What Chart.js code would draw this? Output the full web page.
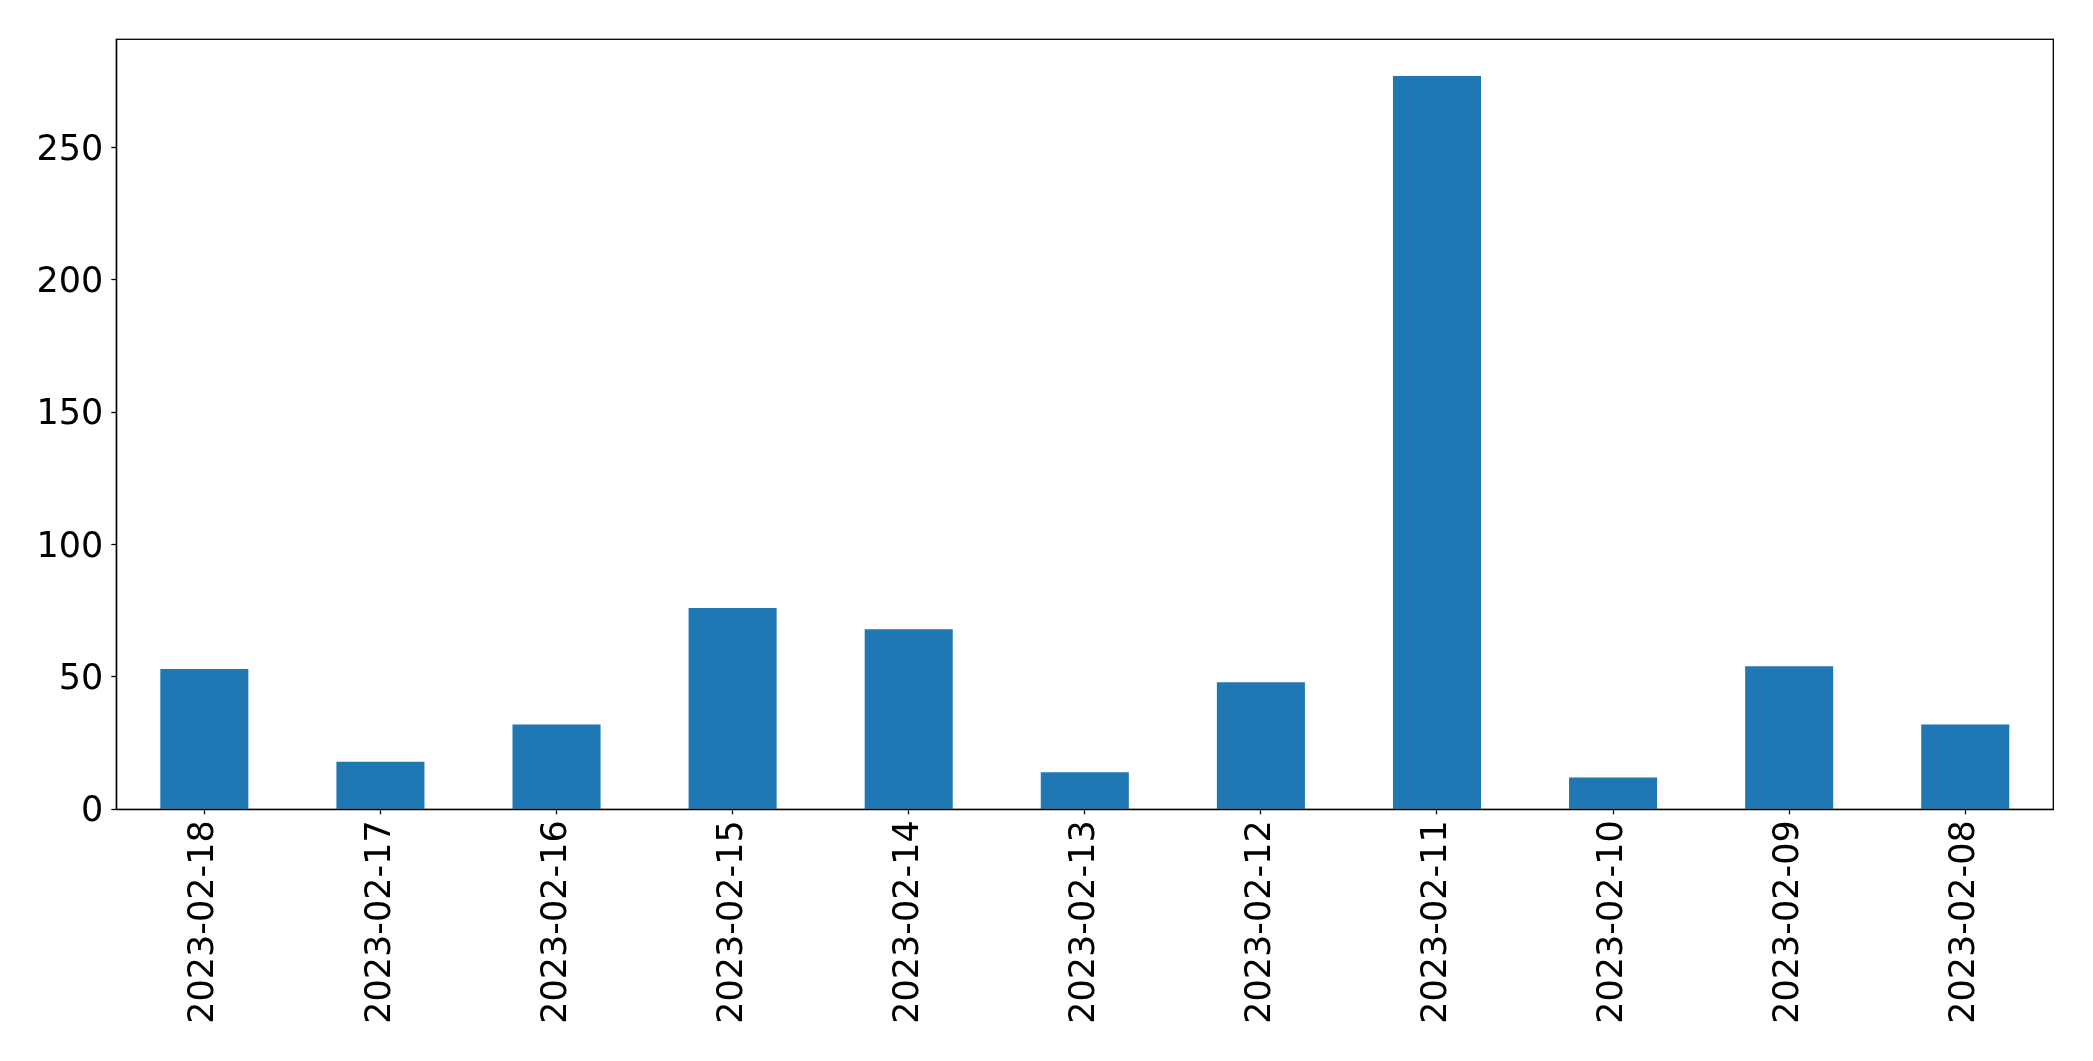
<!DOCTYPE html>
<html>
<head>
<meta charset="utf-8">
<script src="https://cdn.jsdelivr.net/npm/chart.js@4.4.0/dist/chart.umd.min.js"></script>
<style>
  html, body { margin: 0; padding: 0; background: #fff; }
  #wrap { width: 2093px; height: 1061px; }
</style>
</head>
<body>
<div id="wrap"><canvas id="chart" width="2093" height="1061"></canvas></div>
<script>
const dates = ['2023-02-18', '2023-02-17', '2023-02-16', '2023-02-15', '2023-02-14', '2023-02-13',
  '2023-02-12', '2023-02-11', '2023-02-10', '2023-02-09', '2023-02-08'];
const counts = [53, 18, 32, 76, 68, 14, 48, 277, 12, 54, 32];
const yTicks = [0, 50, 100, 150, 200, 250];

const frameBox = {
  id: 'frameBox',
  afterDraw(chart) {
    const { ctx, chartArea: a } = chart;
    ctx.save();
    ctx.strokeStyle = '#000';
    ctx.lineWidth = 1.3;
    ctx.strokeRect(a.left, a.top, a.right - a.left, a.bottom - a.top);
    ctx.restore();
  }
};

new Chart(document.getElementById('chart'), {
  type: 'bar',
  data: {
    labels: dates,
    datasets: [{
      data: counts,
      backgroundColor: '#1f77b4',
      borderWidth: 0,
      categoryPercentage: 1,
      barPercentage: 0.5
    }]
  },
  options: {
    responsive: false,
    animation: false,
    layout: { padding: { left: 0, right: 39.7, top: 39.3, bottom: 0 } },
    plugins: { legend: { display: false }, tooltip: { enabled: false } },
    scales: {
      x: {
        offset: true,
        grid: { display: true, offset: false, drawOnChartArea: false, drawTicks: true, tickLength: 5, color: '#000', tickWidth: 1.3 },
        border: { display: true, color: '#000', width: 1.3 },
        ticks: {
          color: '#000', minRotation: 90, maxRotation: 90, autoSkip: false, padding: 6,
          font: { family: 'DejaVu Sans', size: 35 }
        },
        afterFit: (s) => { s.height = 251.7; }
      },
      y: {
        min: 0,
        max: Math.max(...counts) * 1.05,
        grid: { display: true, drawOnChartArea: false, drawTicks: true, tickLength: 5, color: '#000', tickWidth: 1.3 },
        border: { display: true, color: '#000', width: 1.3 },
        afterBuildTicks: (s) => { s.ticks = yTicks.map((v) => ({ value: v })); },
        ticks: {
          color: '#000', padding: 8, labelOffset: 3,
          font: { family: 'DejaVu Sans', size: 35 }
        },
        afterFit: (s) => { s.width = 116.3; }
      }
    }
  },
  plugins: [frameBox]
});
</script>
</body>
</html>
